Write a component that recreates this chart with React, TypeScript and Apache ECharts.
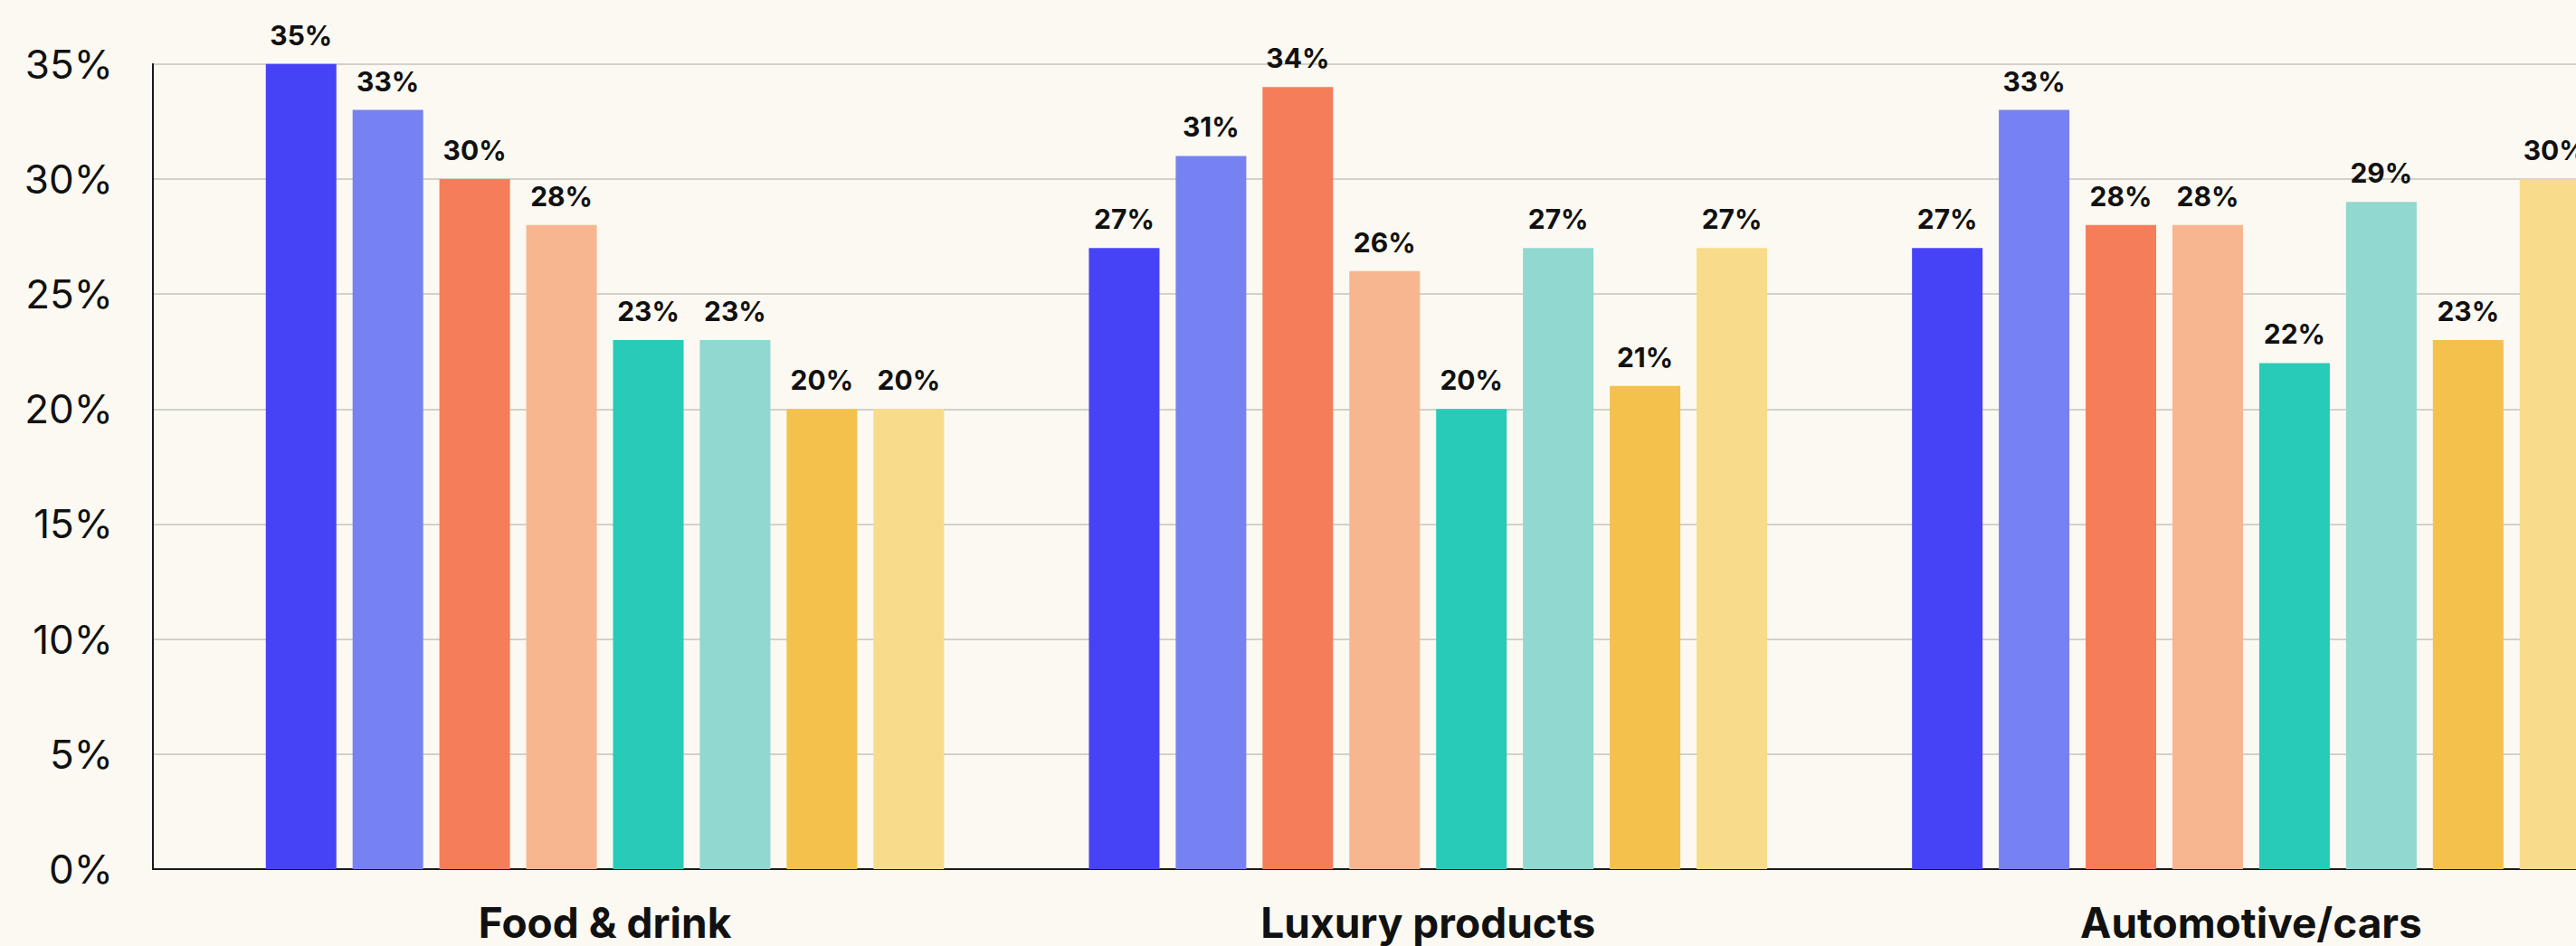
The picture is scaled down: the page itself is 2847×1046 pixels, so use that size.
import React, { useEffect, useRef } from "react";
import * as echarts from "echarts";

const categories = ["Food & drink", "Luxury products", "Automotive/cars"];
const seriesNames = ["Group 1", "Group 2", "Group 3", "Group 4", "Group 5", "Group 6", "Group 7", "Group 8"];
const foodDrink = [35, 33, 30, 28, 23, 23, 20, 20];
const luxuryProducts = [27, 31, 34, 26, 20, 27, 21, 27];
const automotiveCars = [27, 33, 28, 28, 22, 29, 23, 30];
const colors = ["#4643F6", "#7682F2", "#F57D5A", "#F7B690", "#27CBB8", "#90D8D0", "#F4C14D", "#F8DC8B"];
const yTicks = [0, 5, 10, 15, 20, 25, 30, 35];

const W = 3000;
const H = 1100;
const AXIS_X = 169;
const PLOT_TOP = 70.7;
const PLOT_BOTTOM = 961;
const BAND_LEFT = 213.7;
const BAND_RIGHT = 2942.8;

export default function App() {
  const ref = useRef<HTMLDivElement>(null);
  useEffect(() => {
    if (!ref.current) return;
    const chart = echarts.init(ref.current, undefined, { renderer: "svg" });
    const font = "Inter, 'Noto Sans', sans-serif";
    const series = seriesNames.map((name, i) => ({
      name,
      type: "bar",
      xAxisIndex: 1,
      yAxisIndex: 1,
      data: [foodDrink[i], luxuryProducts[i], automotiveCars[i]],
      barWidth: 78,
      barGap: "23%",
      itemStyle: { color: colors[i] },
      label: {
        show: true,
        position: "top",
        distance: 17,
        formatter: "{c}%",
        fontFamily: font,
        fontSize: 30,
        fontWeight: "bold",
        color: "#111",
      },
    }));
    chart.setOption({
      animation: false,
      backgroundColor: "#FBF9F1",
      grid: [
        { left: AXIS_X, right: W - BAND_RIGHT, top: PLOT_TOP, bottom: H - PLOT_BOTTOM },
        { left: BAND_LEFT, right: W - BAND_RIGHT, top: PLOT_TOP, bottom: H - PLOT_BOTTOM },
      ],
      xAxis: [
        {
          type: "value",
          gridIndex: 0,
          min: 0,
          max: 1,
          axisLine: { show: true, lineStyle: { color: "#1a1a1a", width: 2 } },
          axisTick: { show: false },
          axisLabel: { show: false },
          splitLine: { show: false },
        },
        {
          type: "category",
          gridIndex: 1,
          data: categories,
          axisLine: { show: false },
          axisTick: { show: false },
          axisLabel: {
            margin: 36,
            fontFamily: font,
            fontSize: 46,
            fontWeight: "bold",
            color: "#111",
          },
        },
      ],
      yAxis: [
        {
          type: "value",
          gridIndex: 0,
          min: yTicks[0],
          max: yTicks[yTicks.length - 1],
          interval: 5,
          axisLine: { show: true, lineStyle: { color: "#1a1a1a", width: 2 } },
          axisTick: { show: false },
          axisLabel: {
            formatter: "{value}%",
            margin: 44,
            fontFamily: font,
            fontSize: 44,
            color: "#111",
            padding: [0, 0, 10, 0],
          },
          splitLine: { show: true, lineStyle: { color: "#C5C3BC", width: 1.5 } },
        },
        {
          type: "value",
          gridIndex: 1,
          min: 0,
          max: 35,
          interval: 5,
          show: false,
          splitLine: { show: false },
        },
      ],
      series,
    });
    return () => chart.dispose();
  }, []);
  return (
    <div
      style={{
        position: "fixed",
        left: 0,
        top: 0,
        width: 2847,
        height: 1046,
        overflow: "hidden",
        background: "#FBF9F1",
      }}
    >
      <div ref={ref} style={{ width: W, height: H }} />
    </div>
  );
}
